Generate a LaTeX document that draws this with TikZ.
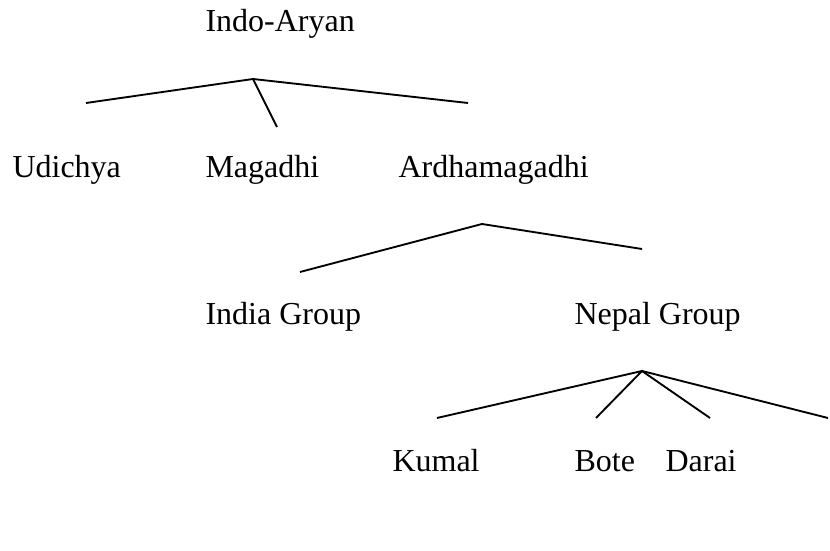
\documentclass[tikz,border=0pt]{standalone}
\usepackage{fontspec}
\setmainfont{Liberation Serif}
\usepackage{tikz}
\tikzset{
  langnode/.style={anchor=base west, inner sep=0pt, font=\fontsize{12}{14}\selectfont},
  branch/.style={line width=0.7pt, black},
}

\begin{document}
\begin{tikzpicture}[x=0.375pt, y=-0.375pt]
  \useasboundingbox (0,0) rectangle (830,551);
  \node[langnode] (ia) at (205,32) {Indo-Aryan};
  \node[langnode] (ud) at (12,178) {Udichya};
  \node[langnode] (mg) at (205,178) {Magadhi};
  \node[langnode] (am) at (398,178) {Ardhamagadhi};
  \node[langnode] (ig) at (205,325) {India Group};
  \node[langnode] (ng) at (574,325) {Nepal Group};
  \node[langnode] (km) at (392,472) {Kumal};
  \node[langnode] (bt) at (574,472) {Bote};
  \node[langnode] (dr) at (665,472) {Darai};
  % branch points
  \coordinate (iatop) at (253,79);
  \coordinate (udend) at (86,103);
  \coordinate (mgend) at (277,127);
  \coordinate (amend) at (468,103);
  \coordinate (amtop) at (482,224);
  \coordinate (igend) at (300,272);
  \coordinate (ngend) at (642,249);
  \coordinate (ngtop) at (642,371);
  \coordinate (kmend) at (437,418);
  \coordinate (btend) at (596,418);
  \coordinate (drend) at (710,418);
  \coordinate (xxend) at (828,418);
  \draw[branch] (udend)--(iatop)--(amend);
  \draw[branch] (iatop)--(mgend);
  \draw[branch] (igend)--(amtop)--(ngend);
  \draw[branch] (kmend)--(ngtop)--(xxend);
  \draw[branch] (ngtop)--(btend);
  \draw[branch] (ngtop)--(drend);
\end{tikzpicture}
\end{document}
